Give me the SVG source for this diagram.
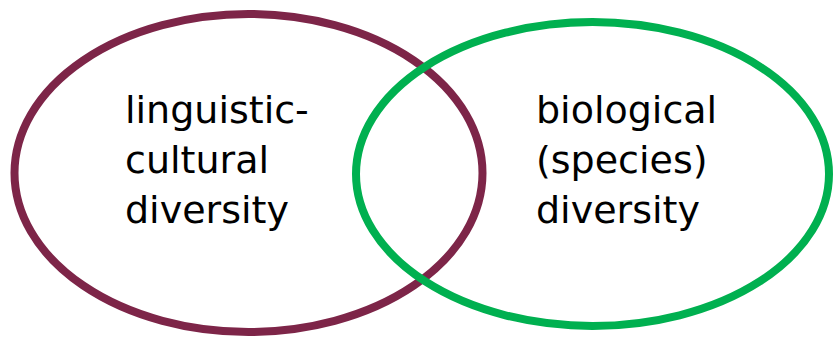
<svg xmlns="http://www.w3.org/2000/svg" width="834" height="337" viewBox="0 0 834 337">
  <style>
    .ring { fill: none; stroke-width: 8; }
    .label { font-family: "DejaVu Sans", "Noto Sans", sans-serif; font-size: 38px; fill: #000000; }
  </style>
  <rect width="834" height="337" fill="#ffffff"/>
  <g id="linguistic-cultural">
    <ellipse class="ring" cx="248.5" cy="173" rx="234" ry="159" stroke="#7D2548"/>
    <text class="label" x="125" y="123">linguistic-</text>
    <text class="label" x="125" y="173">cultural</text>
    <text class="label" x="125" y="223">diversity</text>
  </g>
  <g id="biological">
    <ellipse class="ring" cx="592.5" cy="174" rx="236.5" ry="152" stroke="#00B050"/>
    <text class="label" x="536" y="123">biological</text>
    <text class="label" x="536" y="173">(species)</text>
    <text class="label" x="536" y="223">diversity</text>
  </g>
  <g id="connectors"/>
</svg>
